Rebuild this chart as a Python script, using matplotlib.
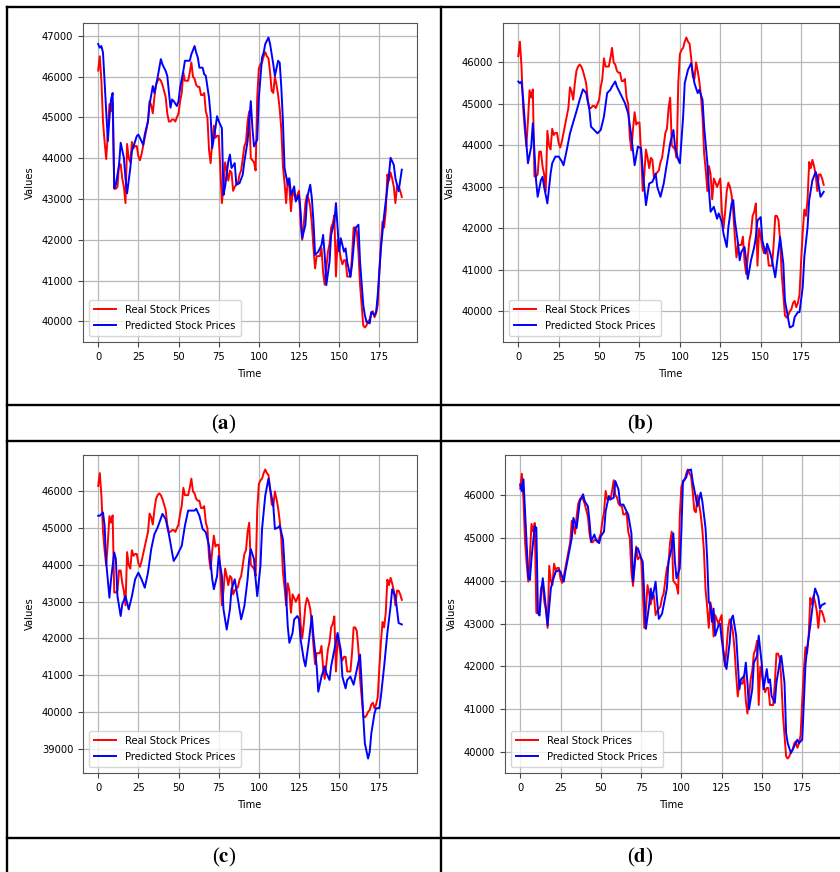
import numpy as np
import matplotlib
matplotlib.use("Agg")
import matplotlib.pyplot as plt
from matplotlib.lines import Line2D

plt.rcParams["font.family"] = ["DejaVu Sans"]
plt.rcParams["font.stretch"] = "condensed"
plt.rcParams["mathtext.fontset"] = "stix"

# real closing prices, one value per time step (0..189)
real = [
    46150, 46500, 45900, 44900, 44400, 43980, 44600, 45330, 45150, 45350,
    43250, 43250, 43300, 43850, 43850, 43500, 43300, 42900, 44350, 44000,
    43900, 44400, 44250, 44300, 44300, 44050, 43950, 44100, 44300, 44500,
    44700, 44900, 45400, 45300, 45100, 45500, 45800, 45900, 45950, 45900,
    45800, 45650, 45500, 45100, 44900, 44900, 44950, 44950, 44900, 45000,
    45100, 45400, 45600, 46100, 45900, 45900, 45900, 46100, 46350, 46000,
    45950, 45800, 45750, 45750, 45550, 45550, 45600, 45150, 45000, 44200,
    43880, 44400, 44800, 44500, 44550, 44550, 43800, 42900, 43300, 43900,
    43700, 43450, 43700, 43650, 43200, 43300, 43350, 43400, 43600, 43700,
    44000, 44300, 44400, 44900, 45150, 44000, 43950, 43900, 43700, 45500,
    46200, 46300, 46350, 46500, 46600, 46500, 46450, 46100, 45650, 45600,
    46000, 45800, 45550, 45200, 44700, 43800, 43400, 42900, 43500, 43300,
    42700, 43200, 43100, 43000, 43100, 43200, 42400, 42000, 42400, 42900,
    43100, 43000, 42800, 42400, 41800, 41300, 41600, 41600, 41600, 41800,
    41200, 40900, 41300, 41700, 41900, 42300, 42400, 42600, 41100, 42000,
    41800, 41550, 41400, 41500, 41500, 41100, 41100, 41100, 41600, 42300,
    42300, 42200, 41700, 40900, 40400, 39900, 39850, 39900, 40000, 40050,
    40200, 40250, 40100, 40200, 40400, 41200, 41900, 42450, 42300, 42700,
    43600, 43450, 43650, 43500, 43300, 42900, 43300, 43300, 43200, 43050,
]

# predicted prices at their turning points
pred_a_t = [0, 1, 2, 3, 6, 7, 8, 9, 10, 11, 13, 14, 16, 17, 18, 20, 21, 22, 24, 25,
            26, 28, 29, 31, 32, 34, 35, 37, 39, 40, 42, 43, 45, 46, 47, 49, 50, 51, 53, 54,
            57, 58, 60, 61, 62, 63, 65, 66, 67, 69, 70, 71, 73, 74, 75, 77, 78, 79, 81, 82,
            83, 85, 86, 88, 90, 91, 93, 94, 95, 96, 97, 99, 100, 102, 103, 104, 106, 107, 109, 110,
            112, 113, 114, 115, 116, 118, 119, 120, 122, 123, 125, 126, 127, 129, 130, 132, 133, 134, 135, 137,
            139, 140, 141, 142, 144, 145, 147, 148, 150, 151, 153, 154, 155, 157, 158, 160, 162, 163, 165, 166,
            167, 169, 170, 172, 173, 174, 176, 178, 179, 181, 182, 184, 185, 187, 189]
pred_a_v = [46800, 46710, 46750, 46590, 44420, 44990, 45440, 45600, 43270, 43350, 43840, 44380, 44010, 43510, 43140, 43760, 44170, 44290, 44540, 44580,
            44500, 44330, 44580, 44910, 45320, 45770, 45600, 45980, 46430, 46300, 46140, 46020, 45240, 45440, 45400, 45280, 45400, 45730, 46140, 46390,
            46390, 46550, 46750, 46590, 46470, 46220, 46220, 46060, 46020, 45480, 45030, 44250, 44740, 45030, 44910, 44740, 43100, 43310, 43920, 44090,
            43760, 43880, 43350, 43390, 43600, 43920, 44420, 44910, 45400, 44740, 44290, 44460, 45480, 46470, 46590, 46800, 46960, 46800, 46300, 46020,
            46390, 46340, 45730, 44910, 43760, 43350, 43510, 43100, 43310, 42940, 43100, 42690, 42040, 42370, 43020, 43350, 43020, 42450, 41630, 41710,
            41870, 42120, 41630, 40890, 41460, 42120, 42450, 42900, 41710, 42040, 41710, 41790, 41460, 41090, 41380, 42280, 42370, 41460, 40400, 40150,
            39990, 39950, 40230, 40150, 40230, 40640, 41790, 42610, 42940, 43600, 44010, 43840, 43510, 43190, 43720]

pred_b_t = [0, 1, 2, 3, 5, 6, 8, 9, 11, 12, 14, 15, 16, 18, 20, 21, 23, 25, 27, 28,
            30, 32, 35, 36, 38, 40, 42, 44, 45, 47, 49, 51, 53, 55, 57, 58, 60, 61, 64, 66,
            68, 70, 72, 74, 76, 77, 79, 81, 83, 85, 86, 88, 90, 92, 94, 96, 97, 99, 100, 102,
            103, 105, 107, 108, 109, 111, 112, 114, 115, 117, 118, 119, 121, 123, 124, 126, 127, 129, 130, 132,
            133, 134, 136, 137, 138, 140, 141, 142, 144, 146, 147, 148, 150, 151, 153, 154, 156, 157, 159, 160,
            162, 164, 165, 167, 168, 170, 171, 173, 174, 176, 177, 179, 180, 182, 184, 185, 186, 187, 189]
pred_b_v = [45540, 45500, 45540, 45140, 44050, 43570, 43970, 44530, 43160, 42760, 43160, 43240, 43000, 42600, 43320, 43570, 43730, 43730, 43610, 43520,
            43890, 44290, 44690, 44820, 45100, 45350, 45260, 44860, 44450, 44370, 44290, 44370, 44690, 45260, 45340, 45420, 45540, 45420, 45180, 45020,
            44770, 44210, 43520, 43970, 43930, 43400, 42560, 43080, 43120, 43320, 43000, 42760, 43080, 43570, 44050, 44370, 43970, 43650, 43570, 44690,
            45500, 45820, 45980, 45740, 45500, 45260, 45340, 45100, 44450, 43570, 42920, 42400, 42520, 42230, 42360, 42150, 41870, 41550, 42030, 42600,
            42680, 42190, 41630, 41230, 41430, 41550, 41230, 40780, 41230, 41550, 41790, 42190, 42270, 41710, 41390, 41630, 41390, 41230, 40820, 41150,
            41790, 41150, 40260, 39820, 39610, 39650, 39860, 39980, 39980, 40580, 41310, 42030, 42680, 43160, 43360, 43240, 43000, 42760, 42880]

pred_c_t = [0, 1, 3, 4, 5, 7, 8, 10, 11, 12, 14, 15, 17, 18, 19, 21, 23, 25, 27, 29,
            31, 33, 35, 37, 40, 42, 44, 46, 47, 49, 52, 54, 56, 58, 60, 61, 63, 65, 67, 69,
            71, 72, 74, 75, 77, 78, 80, 82, 83, 85, 87, 89, 91, 93, 94, 95, 97, 98, 99, 101,
            102, 104, 106, 107, 109, 110, 112, 113, 115, 116, 117, 118, 119, 121, 122, 124, 125, 126, 128, 129,
            131, 133, 134, 136, 137, 139, 141, 142, 144, 145, 147, 149, 151, 152, 154, 155, 157, 159, 161, 163,
            164, 165, 166, 168, 169, 170, 172, 173, 175, 176, 178, 180, 182, 183, 185, 186, 187, 189]
pred_c_v = [45340, 45340, 45430, 45070, 44070, 43110, 43610, 44340, 44160, 43150, 42610, 42930, 43150, 42970, 42790, 43150, 43610, 43790, 43610, 43380,
            43790, 44430, 44840, 45020, 45390, 45250, 44840, 44340, 44110, 44250, 44520, 45070, 45480, 45480, 45480, 45530, 45340, 44980, 44890, 44520,
            43610, 43340, 43700, 44250, 43700, 42790, 42240, 42790, 43340, 43610, 43060, 42520, 42880, 43610, 44160, 44430, 44160, 43610, 43150, 43970,
            44980, 45890, 46350, 46070, 45620, 44980, 45020, 45070, 44700, 43970, 43150, 42330, 41880, 42150, 42520, 42610, 42520, 41970, 41420, 41240,
            41880, 42610, 42060, 41240, 40550, 40960, 41240, 41060, 40870, 41240, 41690, 42150, 41690, 40960, 40640, 40870, 40960, 40740, 41150, 41560,
            40780, 39870, 39140, 38730, 38910, 39410, 39960, 40100, 40100, 40420, 41240, 42150, 42880, 43340, 43150, 42790, 42420, 42380]

pred_d_t = [0, 1, 2, 5, 6, 7, 9, 10, 11, 12, 13, 14, 16, 17, 19, 20, 22, 24, 25, 27,
            28, 30, 32, 33, 35, 37, 39, 40, 42, 43, 44, 46, 47, 49, 50, 52, 53, 55, 56, 58,
            59, 61, 62, 64, 66, 67, 69, 70, 72, 73, 75, 76, 78, 80, 81, 82, 84, 85, 86, 88,
            89, 91, 92, 94, 95, 96, 97, 99, 100, 101, 103, 104, 106, 107, 109, 110, 112, 113, 115, 116,
            117, 118, 119, 120, 121, 123, 124, 125, 127, 128, 130, 131, 132, 134, 135, 136, 137, 139, 140, 141,
            142, 144, 145, 147, 148, 150, 151, 153, 154, 155, 156, 158, 159, 161, 162, 164, 165, 166, 167, 168,
            170, 172, 173, 175, 176, 177, 178, 180, 182, 183, 185, 186, 187, 189]
pred_d_v = [46250, 46090, 46370, 44090, 44020, 44530, 45270, 45240, 43240, 43190, 43740, 44060, 43350, 42960, 43820, 43980, 44210, 44250, 44210, 43980,
            44210, 44600, 45000, 45470, 45230, 45860, 46020, 45860, 45740, 45390, 44920, 45080, 44960, 44880, 45040, 45150, 45620, 45980, 45900, 45940,
            46330, 46130, 45780, 45780, 45620, 45550, 45110, 43980, 44760, 44760, 44530, 44450, 42880, 43430, 43820, 43580, 43980, 43510, 43110, 43230,
            43430, 43820, 44450, 44760, 45110, 44450, 44060, 44290, 45150, 46330, 46410, 46570, 46600, 46330, 45940, 45740, 46060, 45860, 45230, 44530,
            43510, 43430, 43040, 43350, 42720, 42960, 43000, 42640, 42090, 41940, 42570, 43110, 43190, 42720, 42090, 41470, 41700, 41780, 42090, 41620,
            41000, 41470, 42090, 42250, 42720, 42020, 41470, 41940, 41620, 41700, 41310, 41150, 41620, 42090, 42250, 41620, 40450, 40210, 40090, 39980,
            40130, 40290, 40210, 40290, 41150, 42020, 42410, 42960, 43580, 43820, 43620, 43350, 43430, 43470]

panel_labels = ["a", "b", "c", "d"]
time = np.arange(len(real))

W, H = 840, 872
fig = plt.figure(figsize=(W / 100, H / 100), dpi=100)


def px_rect(left, top, right, bottom):
    return [left / W, 1 - bottom / H, (right - left) / W, (bottom - top) / H]


# axes boxes in pixels: left, top, right, bottom
boxes = [(83, 23, 417, 342), (503, 23, 839, 342), (83, 455, 417, 773), (505, 455, 840, 773)]
preds = [(pred_a_t, pred_a_v), (pred_b_t, pred_b_v), (pred_c_t, pred_c_v), (pred_d_t, pred_d_v)]

for box, (pt, pv) in zip(boxes, preds):
    ax = fig.add_axes(px_rect(*box))
    ax.plot(time, real, color="red", lw=1.4, label="Real Stock Prices")
    ax.plot(pt, pv, color="blue", lw=1.4, label="Predicted Stock Prices")
    ax.set_xticks([0, 25, 50, 75, 100, 125, 150, 175])
    ax.grid(True, color="#b8b8b8", lw=0.9)
    ax.tick_params(labelsize=8, length=3.5, color="#444")
    for s in ax.spines.values():
        s.set_color("#555")
    ax.set_xlabel("Time", fontsize=8, labelpad=5)
    ax.set_ylabel("Values", fontsize=8, labelpad=5)
    ax.legend(loc="lower left", fontsize=8, handlelength=2.0, framealpha=0.8,
              borderpad=0.5, labelspacing=0.5)

# table frame
lw = 1.7
for x in (7, 441):
    fig.add_artist(Line2D([x / W, x / W], [1 - 7 / H, 0], color="black", lw=lw))
for y in (7, 405, 441, 838):
    fig.add_artist(Line2D([7 / W, 1], [1 - y / H, 1 - y / H], color="black", lw=lw))

label_pos = [(224, 424), (640, 424), (224, 857), (640, 857)]
for lab, (x, y) in zip(panel_labels, label_pos):
    fig.text(x / W, 1 - y / H, "($\\mathbf{%s}$)" % lab, fontsize=15,
             family="Liberation Serif", stretch="normal", ha="center", va="center")

fig.savefig("out.png", dpi=100)
